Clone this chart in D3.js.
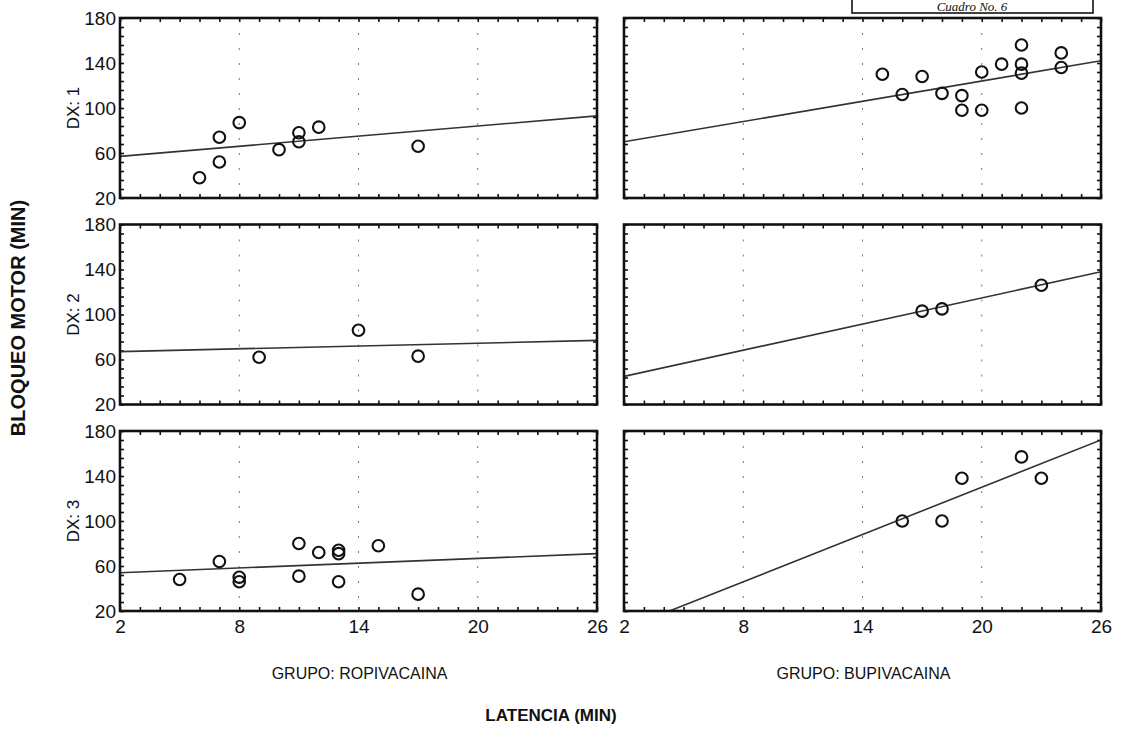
<!DOCTYPE html>
<html><head><meta charset="utf-8">
<script src="https://cdn.jsdelivr.net/npm/d3@7"></script>
<style>
html,body{margin:0;padding:0;background:#fff;}
svg{display:block;}
text{font-family:"Liberation Sans",Arial,sans-serif;fill:#111;}
</style></head>
<body>
<svg id="chart" width="1121" height="736"></svg>
<script>
// ---- data ----
const groups = ["GRUPO: ROPIVACAINA", "GRUPO: BUPIVACAINA"];
const dxLabels = ["DX: 1", "DX: 2", "DX: 3"];
const xTicks = [2, 8, 14, 20, 26];
const yTicks = [20, 60, 100, 140, 180];
const gridX = [8, 14, 20];

const ropiDx1X = [6, 7, 7, 8, 10, 11, 11, 12, 17];
const ropiDx1Y = [38, 74, 52, 87, 63, 78, 70, 83, 66];
const ropiDx2X = [9, 14, 17];
const ropiDx2Y = [62, 86, 63];
const ropiDx3X = [5, 7, 8, 8, 11, 11, 12, 13, 13, 13, 15, 17];
const ropiDx3Y = [48, 64, 50, 46, 80, 51, 72, 74, 71, 46, 78, 35];

const bupiDx1X = [15, 16, 17, 18, 19, 19, 20, 20, 21, 22, 22, 22, 22, 24, 24];
const bupiDx1Y = [130, 112, 128, 113, 111, 98, 132, 98, 139, 156, 139, 131, 100, 149, 136];
const bupiDx2X = [17, 18, 23];
const bupiDx2Y = [103, 105, 126];
const bupiDx3X = [16, 18, 19, 22, 23];
const bupiDx3Y = [100, 100, 138, 157, 138];

// fitted line: value at x=2 and at x=26
const ropiLines = [[57, 93], [67, 77], [54, 71]];
const bupiLines = [[70, 142], [45, 138], [4, 172]];

const ropiX = [ropiDx1X, ropiDx2X, ropiDx3X];
const ropiY = [ropiDx1Y, ropiDx2Y, ropiDx3Y];
const bupiX = [bupiDx1X, bupiDx2X, bupiDx3X];
const bupiY = [bupiDx1Y, bupiDx2Y, bupiDx3Y];

// ---- layout ----
const svg = d3.select("#chart");
const colX = [120, 624];
const panelW = 477;
const rowY = [18, 224.5, 431];
const panelH = 180;

const x = d3.scaleLinear().domain([2, 26]).range([0, panelW]);
const y = d3.scaleLinear().domain([20, 180]).range([panelH, 0]);

const minorX = d3.range(2, 27, 1);
const minorY = d3.range(20, 181, 8);

// header box (top edge outside the page, as in the scan)
const hdr = svg.append("g");
hdr.append("rect").attr("x", 852).attr("y", -20).attr("width", 241).attr("height", 33)
  .attr("fill", "none").attr("stroke", "#111").attr("stroke-width", 1.6);
hdr.append("text").attr("x", 972).attr("y", 10.5).attr("text-anchor", "middle")
  .style("font-family", "'Liberation Serif',serif").style("font-style", "italic")
  .style("font-size", "13px").text("Cuadro No. 6");

const defs = svg.append("defs");

[0, 1].forEach(c => {
  [0, 1, 2].forEach(r => {
    const g = svg.append("g").attr("transform", `translate(${colX[c]},${rowY[r]})`);
    const clipId = `clip${c}${r}`;
    defs.append("clipPath").attr("id", clipId).append("rect")
      .attr("x", 0).attr("y", 0).attr("width", panelW).attr("height", panelH);

    // faint dotted vertical grid lines
    g.selectAll(".grid").data(gridX).enter().append("line")
      .attr("x1", d => x(d)).attr("x2", d => x(d))
      .attr("y1", 0).attr("y2", panelH)
      .attr("stroke", "#777").attr("stroke-width", 1)
      .attr("stroke-dasharray", "2,13");

    // minor ticks (inward) using d3 axes
    const tickLen = 4;
    g.append("g").attr("transform", `translate(0,${panelH})`)
      .call(d3.axisTop(x).tickValues(minorX).tickSize(tickLen).tickFormat(""))
      .call(a => a.select(".domain").remove());
    g.append("g")
      .call(d3.axisBottom(x).tickValues(minorX).tickSize(tickLen).tickFormat(""))
      .call(a => a.select(".domain").remove());
    g.append("g")
      .call(d3.axisRight(y).tickValues(minorY).tickSize(tickLen).tickFormat(""))
      .call(a => a.select(".domain").remove());
    g.append("g").attr("transform", `translate(${panelW},0)`)
      .call(d3.axisLeft(y).tickValues(minorY).tickSize(tickLen).tickFormat(""))
      .call(a => a.select(".domain").remove());
    g.selectAll(".tick line").attr("stroke", "#111").attr("stroke-width", 1.6);

    // y tick labels on left column
    if (c === 0) {
      const ya = g.append("g")
        .call(d3.axisLeft(y).tickValues(yTicks).tickSize(0).tickPadding(4));
      ya.select(".domain").remove();
      ya.selectAll("text").style("font-size", "19px").style("font-family", "'Liberation Sans',Arial,sans-serif")
        .attr("fill", "#111");
      g.append("text")
        .attr("transform", `translate(-41,${panelH / 2}) rotate(-90)`)
        .attr("text-anchor", "middle").style("font-size", "17px")
        .text(dxLabels[r]);
    }
    // x tick labels on bottom row
    if (r === 2) {
      const xa = g.append("g").attr("transform", `translate(0,${panelH})`)
        .call(d3.axisBottom(x).tickValues(xTicks).tickSize(0).tickPadding(9));
      xa.select(".domain").remove();
      xa.selectAll("text").style("font-size", "19px").style("font-family", "'Liberation Sans',Arial,sans-serif")
        .attr("fill", "#111");
    }

    // regression line
    const ln = (c === 0 ? ropiLines : bupiLines)[r];
    g.append("line").attr("clip-path", `url(#${clipId})`)
      .attr("x1", x(2)).attr("y1", y(ln[0]))
      .attr("x2", x(26)).attr("y2", y(ln[1]))
      .attr("stroke", "#333").attr("stroke-width", 1.6);

    // points
    const xs = (c === 0 ? ropiX : bupiX)[r];
    const ys = (c === 0 ? ropiY : bupiY)[r];
    g.selectAll(".pt").data(xs.map((v, i) => [v, ys[i]])).enter().append("circle")
      .attr("cx", d => x(d[0])).attr("cy", d => y(d[1])).attr("r", 5.8)
      .attr("fill", "none").attr("stroke", "#111").attr("stroke-width", 2.1);

    // frame
    g.append("rect").attr("x", 0).attr("y", 0).attr("width", panelW).attr("height", panelH)
      .attr("fill", "none").attr("stroke", "#111").attr("stroke-width", 2.6);
  });
  // group label
  svg.append("text").attr("x", colX[c] + panelW / 2 + 1).attr("y", 679)
    .attr("text-anchor", "middle").style("font-size", "16px").text(groups[c]);
});

// axis titles
svg.append("text").attr("x", 551).attr("y", 721).attr("text-anchor", "middle")
  .style("font-size", "17px").style("font-weight", "bold").text("LATENCIA (MIN)");
svg.append("text").attr("transform", "translate(25,318) rotate(-90)")
  .attr("text-anchor", "middle").style("font-size", "20px").style("font-weight", "bold")
  .text("BLOQUEO MOTOR (MIN)");
</script>
</body></html>
